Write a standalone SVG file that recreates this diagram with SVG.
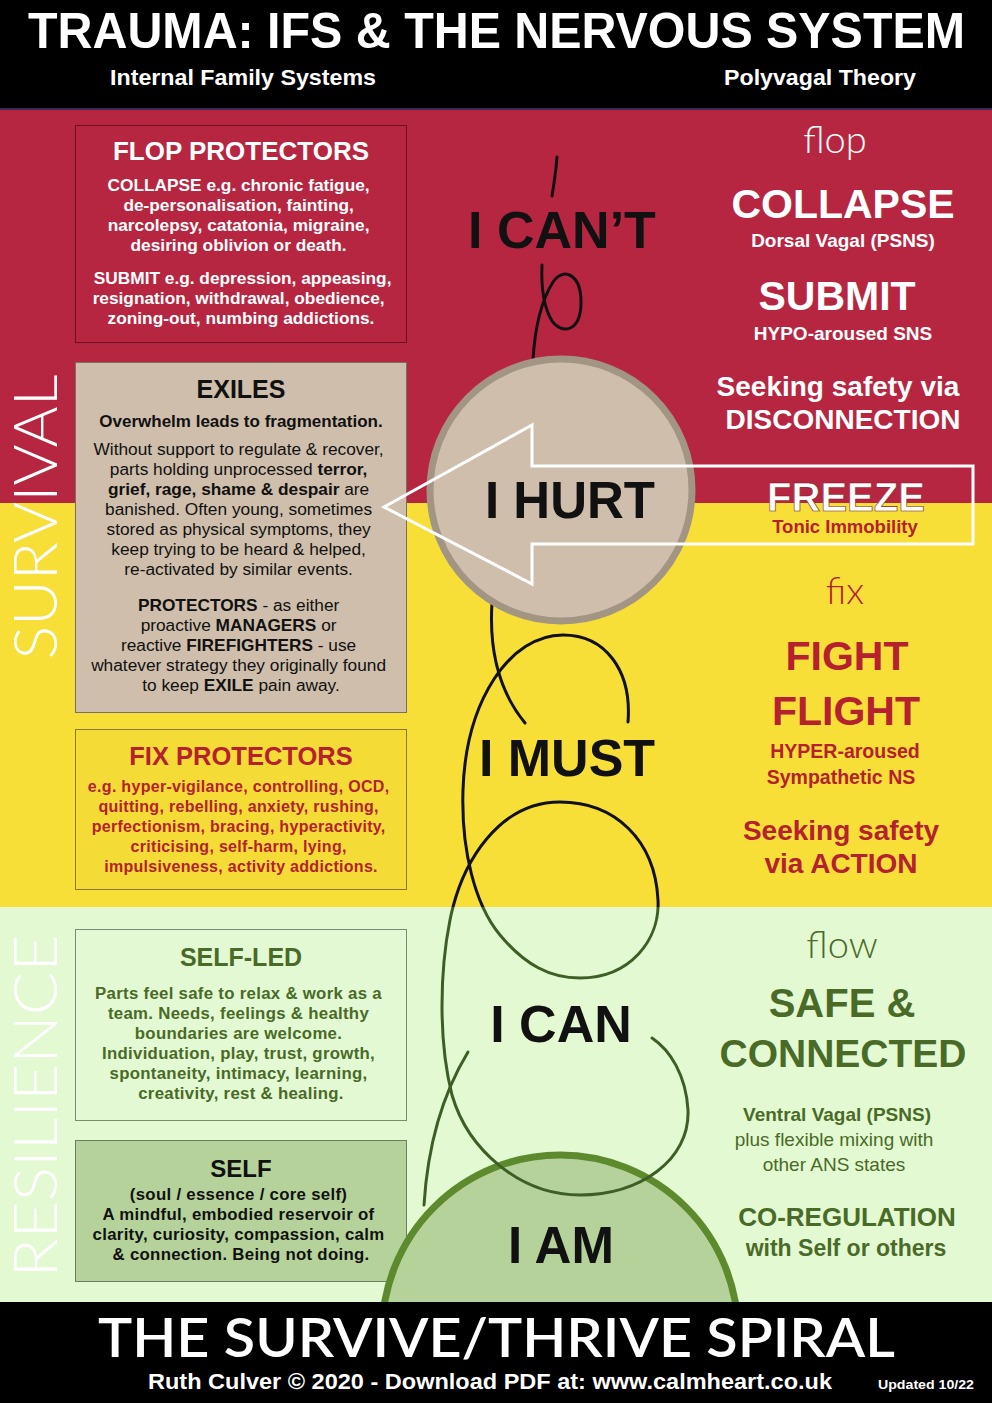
<svg xmlns="http://www.w3.org/2000/svg" width="992" height="1403" viewBox="0 0 992 1403">
<defs>
<style>
.b{font-family:"Liberation Sans",Arial,sans-serif;font-weight:bold}
.r{font-family:"Liberation Sans",Arial,sans-serif;font-weight:normal}
.thin{font-family:Lato,"Open Sans",sans-serif;font-weight:300}
.c{text-anchor:middle}
.w{fill:#ffffff}
.red{fill:#B5212F}
.grn{fill:#4A6A27}
.blk{fill:#111111}
.sp{fill:none;stroke-width:3;stroke-linecap:round}
</style>
<clipPath id="topClip"><rect x="0" y="0" width="992" height="907"/></clipPath>
<clipPath id="botClip"><rect x="0" y="907" width="992" height="400"/></clipPath>
</defs>

<g id="bands">
<rect x="0" y="0" width="992" height="108" fill="#000"/>
<rect x="0" y="108" width="992" height="2" fill="#3a2a55"/>
<rect x="0" y="110" width="992" height="393" fill="#B72641"/>
<rect x="0" y="503" width="992" height="404" fill="#F7DF38"/>
<rect x="0" y="907" width="992" height="395" fill="#E2F9D2"/>
</g>

<g id="header">
<text class="b w" x="28" y="48" font-size="50" textLength="937" lengthAdjust="spacingAndGlyphs">TRAUMA: IFS &amp; THE NERVOUS SYSTEM</text>
<text class="b w" x="110" y="85" font-size="22" textLength="266" lengthAdjust="spacingAndGlyphs">Internal Family Systems</text>
<text class="b w" x="724" y="85" font-size="22" textLength="192" lengthAdjust="spacingAndGlyphs">Polyvagal Theory</text>
</g>

<g id="side-labels">
<text class="thin w c" transform="translate(57,517) rotate(-90)" font-size="62" textLength="285" lengthAdjust="spacingAndGlyphs">SURVIVAL</text>
<text class="thin w c" transform="translate(57,1106) rotate(-90)" font-size="62" textLength="343" lengthAdjust="spacingAndGlyphs">RESILIENCE</text>
</g>

<g id="flop-protectors">
<rect x="75.5" y="125.5" width="331" height="217" fill="#B72641" stroke="#6e1020" stroke-width="1"/>
<text class="b w c" x="241" y="160" font-size="26">FLOP PROTECTORS</text>
<text class="b w c" font-size="17.3">
<tspan x="241" y="191">COLLAPSE e.g. chronic fatigue,</tspan>
<tspan x="241" y="211">de-personalisation, fainting,</tspan>
<tspan x="241" y="231">narcolepsy, catatonia, migraine,</tspan>
<tspan x="241" y="251">desiring oblivion or death.</tspan>
<tspan x="245" y="284">SUBMIT e.g. depression, appeasing,</tspan>
<tspan x="241" y="304">resignation, withdrawal, obedience,</tspan>
<tspan x="241" y="324">zoning-out, numbing addictions.</tspan>
</text>
</g>

<g id="exiles">
<rect x="75.5" y="362.5" width="331" height="350" fill="#CFBEAB" stroke="#7d6f60" stroke-width="1"/>
<text class="b blk c" x="241" y="398" font-size="25">EXILES</text>
<text class="b blk c" x="241" y="427" font-size="17">Overwhelm leads to fragmentation.</text>
<text class="r blk c" font-size="17.3">
<tspan x="241" y="455">Without support to regulate &amp; recover,</tspan>
<tspan x="241" y="475">parts holding unprocessed <tspan class="b">terror,</tspan></tspan>
<tspan x="241" y="495"><tspan class="b">grief, rage, shame &amp; despair</tspan> are</tspan>
<tspan x="241" y="515">banished. Often young, sometimes</tspan>
<tspan x="241" y="535">stored as physical symptoms, they</tspan>
<tspan x="241" y="555">keep trying to be heard &amp; helped,</tspan>
<tspan x="241" y="575">re-activated by similar events.</tspan>
<tspan x="241" y="611"><tspan class="b">PROTECTORS</tspan> - as either</tspan>
<tspan x="241" y="631">proactive <tspan class="b">MANAGERS</tspan> or</tspan>
<tspan x="241" y="651">reactive <tspan class="b">FIREFIGHTERS</tspan> - use</tspan>
<tspan x="241" y="671">whatever strategy they originally found</tspan>
<tspan x="241" y="691">to keep <tspan class="b">EXILE</tspan> pain away.</tspan>
</text>
</g>

<g id="fix-protectors">
<rect x="75.5" y="729.5" width="331" height="160" fill="#F4DB36" stroke="#8a7a2a" stroke-width="1"/>
<text class="b red c" x="241" y="765" font-size="25.5">FIX PROTECTORS</text>
<text class="b red c" font-size="16" letter-spacing="0.3">
<tspan x="241" y="792">e.g. hyper-vigilance, controlling, OCD,</tspan>
<tspan x="241" y="812">quitting, rebelling, anxiety, rushing,</tspan>
<tspan x="241" y="832">perfectionism, bracing, hyperactivity,</tspan>
<tspan x="241" y="852">criticising, self-harm, lying,</tspan>
<tspan x="241" y="872">impulsiveness, activity addictions.</tspan>
</text>
</g>

<g id="self-led">
<rect x="75.5" y="929.5" width="331" height="191" fill="#E3F9D3" stroke="#7b8a70" stroke-width="1"/>
<text class="b grn c" x="241" y="966" font-size="25">SELF-LED</text>
<text class="b grn c" font-size="16.8" letter-spacing="0.3">
<tspan x="241" y="999">Parts feel safe to relax &amp; work as a</tspan>
<tspan x="241" y="1019">team. Needs, feelings &amp; healthy</tspan>
<tspan x="241" y="1039">boundaries are welcome.</tspan>
<tspan x="241" y="1059">Individuation, play, trust, growth,</tspan>
<tspan x="241" y="1079">spontaneity, intimacy, learning,</tspan>
<tspan x="241" y="1099">creativity, rest &amp; healing.</tspan>
</text>
</g>

<g id="self">
<rect x="75.5" y="1140.5" width="331" height="141" fill="#B5D29A" stroke="#6d7d62" stroke-width="1"/>
<text class="b blk c" x="241" y="1177" font-size="24">SELF</text>
<text class="b blk c" font-size="16.8" letter-spacing="0.3">
<tspan x="241" y="1200">(soul / essence / core self)</tspan>
<tspan x="241" y="1220">A mindful, embodied reservoir of</tspan>
<tspan x="241" y="1240">clarity, curiosity, compassion, calm</tspan>
<tspan x="241" y="1260">&amp; connection. Being not doing.</tspan>
</text>
</g>

<g id="i-am-circle">
<circle cx="560" cy="1333" r="178" fill="#B5D29A" stroke="#5E8A2E" stroke-width="7"/>
</g>

<g id="connectors">
<g clip-path="url(#topClip)" stroke="#111">
<path class="sp" stroke-width="2.5" d="M557,157 C556,170 554,184 552,196"/>
<path class="sp" stroke-width="2.5" d="M542,265 C541,288 543,306 552,321 C562,335 581,332 581,302 C581,275 564,266 553,282 C543,298 535,325 533,360"/>
<path class="sp" stroke-width="2" d="M492,603 C489,650 498,690 525,723"/>
<path class="sp" stroke-width="3.4" d="M628,722 C632,670 605,635 563,635 C510,635 466,700 463,790 C461,850 475,905 500,935 C525,965 550,978 580,978 C630,978 660,940 658,900 C655,840 615,802 560,802 C500,802 462,860 450,920 C440,970 438,1040 452,1095 C468,1150 520,1195 580,1195 C640,1195 690,1160 688,1110 C686,1075 670,1050 652,1038"/>
</g>
<g clip-path="url(#botClip)" stroke="#3D5E25">
<path class="sp" stroke-width="3.4" d="M628,722 C632,670 605,635 563,635 C510,635 466,700 463,790 C461,850 475,905 500,935 C525,965 550,978 580,978 C630,978 660,940 658,900 C655,840 615,802 560,802 C500,802 462,860 450,920 C440,970 438,1040 452,1095 C468,1150 520,1195 580,1195 C640,1195 690,1160 688,1110 C686,1075 670,1050 652,1038"/>
<path class="sp" stroke-width="2.2" d="M468,1052 C445,1090 428,1140 424,1205"/>
</g>
</g>

<g id="i-hurt-circle">
<circle cx="561" cy="490" r="131" fill="#CFBEAB" stroke="#A29584" stroke-width="7"/>
</g>

<g id="freeze-arrow">
<polygon points="384,507 532,425 532,466 973,466 973,544 532,544 532,584" fill="none" stroke="#ffffff" stroke-width="3"/>
</g>

<g id="spiral-labels">
<text class="b blk c" x="562" y="248" font-size="52">I CAN’T</text>
<text class="b blk c" x="570" y="518" font-size="51">I HURT</text>
<text class="b blk c" x="567" y="776" font-size="52">I MUST</text>
<text class="b blk c" x="561" y="1042" font-size="52">I CAN</text>
<text class="b blk c" x="561" y="1263" font-size="51">I AM</text>
</g>

<g id="flop-states">
<text class="thin w c" x="835" y="153" font-size="38">flop</text>
<text class="b w c" x="843" y="218" font-size="41">COLLAPSE</text>
<text class="b w c" x="843" y="247" font-size="19">Dorsal Vagal (PSNS)</text>
<text class="b w c" x="837" y="310" font-size="41">SUBMIT</text>
<text class="b w c" x="843" y="340" font-size="19">HYPO-aroused SNS</text>
<text class="b w c" x="838" y="396" font-size="28">Seeking safety via</text>
<text class="b w c" x="843" y="429" font-size="28">DISCONNECTION</text>
</g>

<g id="freeze-states">
<text class="b w c" x="846" y="511" font-size="40" stroke="#7a1a22" stroke-width="0.6">FREEZE</text>
<text class="b red c" x="845" y="533" font-size="18.5">Tonic Immobility</text>
</g>

<g id="fix-states">
<text class="thin red c" x="845" y="604" font-size="38">fix</text>
<text class="b red c" x="847" y="670" font-size="41">FIGHT</text>
<text class="b red c" x="846" y="725" font-size="41">FLIGHT</text>
<text class="b red c" x="845" y="758" font-size="19.5">HYPER-aroused</text>
<text class="b red c" x="841" y="784" font-size="19.5">Sympathetic NS</text>
<text class="b red c" x="841" y="840" font-size="28">Seeking safety</text>
<text class="b red c" x="841" y="873" font-size="28">via ACTION</text>
</g>

<g id="flow-states">
<text class="thin grn c" x="842" y="958" font-size="38">flow</text>
<text class="b grn c" x="842" y="1017" font-size="40">SAFE &amp;</text>
<text class="b grn c" x="843" y="1067" font-size="39">CONNECTED</text>
<text class="b grn c" x="837" y="1121" font-size="19">Ventral Vagal (PSNS)</text>
<text class="r grn c" x="834" y="1146" font-size="19">plus flexible mixing with</text>
<text class="r grn c" x="834" y="1171" font-size="19">other ANS states</text>
<text class="b grn c" x="847" y="1226" font-size="26">CO-REGULATION</text>
<text class="b grn c" x="846" y="1256" font-size="23">with Self or others</text>
</g>

<g id="footer">
<rect x="0" y="1302" width="992" height="101" fill="#000"/>
<text class="w" x="98" y="1357" font-family="Lato,'Open Sans',sans-serif" font-weight="600" font-size="54" textLength="797" lengthAdjust="spacingAndGlyphs">THE SURVIVE/THRIVE SPIRAL</text>
<text class="b w" x="148" y="1389" font-size="22" textLength="684" lengthAdjust="spacingAndGlyphs">Ruth Culver © 2020 -  Download PDF at: www.calmheart.co.uk</text>
<text class="b w" x="878" y="1389" font-size="13" textLength="96" lengthAdjust="spacingAndGlyphs">Updated 10/22</text>
</g>
</svg>
